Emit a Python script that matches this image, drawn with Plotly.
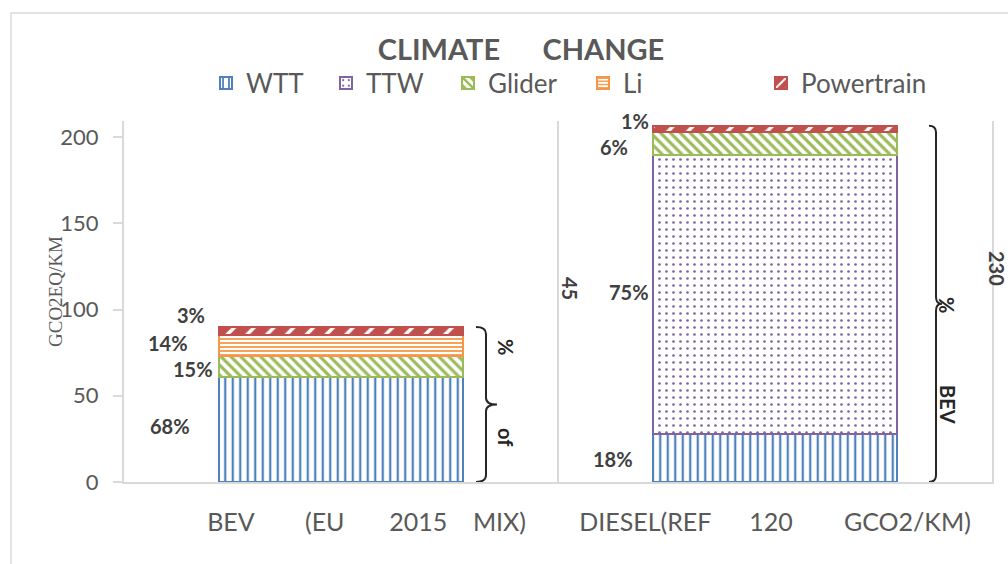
import plotly.graph_objects as go

NB = "\u00a0"

# Chart data
categories = ["BEV (EU 2015 MIX)", "DIESEL(REF 120 GCO2/KM)"]
tick_labels = [
    NB * 8 + "BEV" + NB * 8 + "(EU" + NB * 7 + "2015" + NB * 4 + "MIX)",
    "DIESEL(REF" + NB * 6 + "120" + NB * 8 + "GCO2/KM)",
]
series_names = ["WTT", "TTW", "Glider", "Li", "Powertrain"]
wtt = [61.0, 27.6]
ttw = [None, 162.0]
glider = [12.3, 13.4]
li = [12.0, None]
powertrain = [4.5, 3.6]

wtt_labels = ["68%", "18%"]
ttw_labels = [None, "75%"]
glider_labels = ["15%", "6%"]
li_labels = ["14%", None]
powertrain_labels = ["3%", "1%"]

brace_texts = [["%", "of"], ["%", "BEV"]]
side_texts = ["45", "230"]

# Styles
colors = ["#4F81BD", "#8064A2", "#9BBB59", "#F79646", "#C0504D"]
patterns = [
    dict(shape="|", size=7.5, solidity=0.3, fgcolor=colors[0], bgcolor="white", fillmode="replace"),
    dict(shape=".", size=7, solidity=0.12, fgcolor=colors[1], bgcolor="white", fillmode="replace"),
    dict(shape="\\", size=7, solidity=0.45, fgcolor=colors[2], bgcolor="white", fillmode="replace"),
    dict(shape="-", size=4, solidity=0.45, fgcolor=colors[3], bgcolor="white", fillmode="replace"),
    dict(shape="/", size=14, solidity=0.25, fgcolor="white", bgcolor=colors[4], fillmode="replace"),
]
# label offsets in pixels (xshift, yshift) from the segment centre
label_offsets = [
    [(-171, 3), (-162, -1)],
    [None, (-146, 3)],
    [(-148, -3), (-161, -4)],
    [(-173, 2), None],
    [(-150, 16), (-140, 8)],
]
legend_text_px = [246, 366, 488, 623, 801]

W, H = 1008, 564
PW, PH = 868, 361
L, T = 124, 121
R, B = W - L - PW, H - T - PH
Y_MAX = 209.3


def px_to_paper_x(px):
    return (px - L) / PW


def px_to_paper_y(py):
    return (T + PH - py) / PH


all_values = [wtt, ttw, glider, li, powertrain]
all_labels = [wtt_labels, ttw_labels, glider_labels, li_labels, powertrain_labels]

fig = go.Figure()

for i, (name, vals) in enumerate(zip(series_names, all_values)):
    fig.add_trace(
        go.Bar(
            x=categories,
            y=vals,
            name=name,
            width=0.56,
            marker=dict(color=colors[i], pattern=patterns[i], line=dict(color=colors[i], width=2)),
            legend=f"legend{i + 2}",
            hoverinfo="skip",
        )
    )

legend_layouts = {}
for i, tx in enumerate(legend_text_px):
    legend_layouts[f"legend{i + 2}"] = dict(
        x=px_to_paper_x(tx - 40),
        y=px_to_paper_y(83),
        xanchor="left",
        yanchor="middle",
        orientation="h",
        bgcolor="rgba(0,0,0,0)",
        font=dict(family="Lato", size=26, color="#595959"),
    )

# Data labels
annotations = []
base = [0.0, 0.0]
for vals, labels, offs in zip(all_values, all_labels, label_offsets):
    for j in range(len(categories)):
        v = vals[j]
        if v is None:
            continue
        if labels[j] is not None:
            dx, dy = offs[j]
            annotations.append(
                dict(
                    x=j, y=base[j] + v / 2, xref="x", yref="y",
                    text=labels[j], showarrow=False,
                    xanchor="center", yanchor="middle",
                    xshift=dx, yshift=dy,
                    font=dict(family="Lato", size=20, color="#404040", weight="bold"),
                )
            )
        base[j] += v
totals = base[:]

# Braces and their rotated texts
brace_x = [(135, 145, 156), (154, 161, 167)]
shapes = []
for j, (xh, xl, xt) in enumerate(brace_x):
    top = totals[j]
    mid = top / 2
    e = 4
    path = (
        f"M{xh},0 Q{xl},0 {xl},{e} L{xl},{mid - e} Q{xl},{mid} {xt},{mid} "
        f"Q{xl},{mid} {xl},{mid + e} L{xl},{top - e} Q{xl},{top} {xh},{top}"
    )
    shapes.append(
        dict(
            type="path", xref="x", yref="y", xsizemode="pixel", xanchor=j,
            path=path, line=dict(color="#262626", width=2),
        )
    )

brace_text_pos = [[(506, 347), (506, 437)], [(947, 305), (948, 404)]]
for texts, poss in zip(brace_texts, brace_text_pos):
    for t, (px, py) in zip(texts, poss):
        annotations.append(
            dict(
                x=px_to_paper_x(px), y=px_to_paper_y(py), xref="paper", yref="paper",
                xanchor="center", yanchor="middle",
                text=t, showarrow=False, textangle=90,
                font=dict(family="Lato", size=20, color="#262626", weight="bold"),
            )
        )

side_pos = [(570, 288), (997, 268)]
for t, (px, py) in zip(side_texts, side_pos):
    annotations.append(
        dict(
            x=px_to_paper_x(px), y=px_to_paper_y(py), xref="paper", yref="paper",
            xanchor="center", yanchor="middle",
            text=t, showarrow=False, textangle=90,
            font=dict(family="Lato", size=20, color="#404040", weight="bold"),
        )
    )

# Y axis title
annotations.append(
    dict(
        x=px_to_paper_x(55), y=px_to_paper_y(292), xref="paper", yref="paper",
        xanchor="center", yanchor="middle",
        text="GCO2EQ/KM", showarrow=False, textangle=-90,
        font=dict(family="Liberation Serif", size=19, color="#595959"),
    )
)

# Category separator
shapes.append(
    dict(type="line", xref="x", yref="paper", x0=0.5, x1=0.5, y0=0, y1=1,
         line=dict(color="#D9D9D9", width=2), layer="below")
)
# Chart border
shapes.append(
    dict(type="rect", xref="paper", yref="paper",
         x0=px_to_paper_x(11), x1=px_to_paper_x(1030),
         y0=px_to_paper_y(590), y1=px_to_paper_y(13),
         line=dict(color="#D9D9D9", width=1.5), layer="below")
)

fig.update_layout(
    width=W,
    height=H,
    margin=dict(l=L, r=R, t=T, b=B),
    paper_bgcolor="white",
    plot_bgcolor="white",
    barmode="stack",
    showlegend=True,
    title=dict(
        text="CLIMATE" + NB * 6 + "CHANGE",
        x=px_to_paper_x(521), xref="paper", xanchor="center",
        y=1 - 50 / H, yanchor="middle",
        font=dict(family="Lato", size=29, color="#595959", weight="bold"),
    ),
    xaxis=dict(
        tickvals=categories,
        ticktext=tick_labels,
        range=[-0.5, 1.5],
        showline=True,
        linecolor="#D9D9D9",
        linewidth=2,
        ticks="",
        ticklabelstandoff=17,
        tickfont=dict(family="Lato", size=25, color="#595959"),
    ),
    yaxis=dict(
        range=[0, Y_MAX],
        tickvals=[0, 50, 100, 150, 200],
        showgrid=False,
        zeroline=False,
        showline=True,
        mirror=True,
        linecolor="#D9D9D9",
        linewidth=2,
        ticks="outside",
        ticklen=9,
        tickcolor="#D9D9D9",
        tickwidth=2,
        ticklabelstandoff=10,
        tickfont=dict(family="Lato", size=22, color="#595959"),
    ),
    annotations=annotations,
    shapes=shapes,
    **legend_layouts,
)

# drop the default page margin so the figure sits at the window corner
fig.write_html(
    "out.html",
    config={"displayModeBar": False},
    post_script="document.body.style.margin='0px'; document.body.style.overflow='hidden';",
)
